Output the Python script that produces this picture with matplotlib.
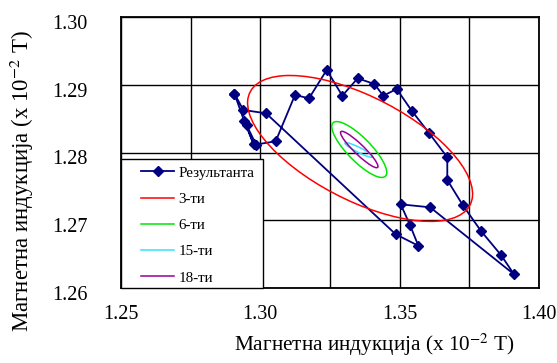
import matplotlib
matplotlib.use("Agg")
import matplotlib.pyplot as plt
import matplotlib.ticker as mticker
import matplotlib.transforms as mtransforms
from matplotlib.patches import Ellipse, Rectangle
from matplotlib.lines import Line2D

plt.rcParams['font.family'] = ['Liberation Serif', 'DejaVu Serif']
plt.rcParams['mathtext.fontset'] = 'stix'

# resultant locus (x 10^-2 T)
res_x = [1.2907, 1.29414, 1.29755, 1.29504, 1.29844, 1.30551, 1.31244, 1.31746,
         1.32382, 1.32941, 1.33494, 1.34090, 1.34413, 1.34893, 1.35432, 1.36063,
         1.36709, 1.36709, 1.37262, 1.37919, 1.38636, 1.39103, 1.36094, 1.35037,
         1.35371, 1.35669, 1.34858, 1.30203, 1.29389, 1.2907]
res_y = [1.2887, 1.28472, 1.28125, 1.28406, 1.28118, 1.28165, 1.28849, 1.28800,
         1.29218, 1.28838, 1.29095, 1.29011, 1.28838, 1.28937, 1.28617, 1.28283,
         1.27929, 1.27594, 1.27225, 1.26841, 1.26487, 1.26202, 1.27191, 1.27235,
         1.26930, 1.26624, 1.26793, 1.28579, 1.28627, 1.2887]

# harmonic loci (ellipses): centre, full width, full height, tilt in degrees
harm_labels = ['3-ти', '6-ти', '15-ти', '18-ти']
harm_colors = ['#ff0000', '#00e600', '#33e0ff', '#990099']
harm_cx = [1.3358, 1.3355, 1.3354, 1.3355]
harm_cy = [1.2806, 1.28044, 1.28037, 1.28044]
harm_w = [0.0819, 0.02093, 0.01024, 0.01435]
harm_h = [0.0166, 0.00444, 0.000805, 0.00189]
harm_ang = [-9.85, -19.9, -11.4, -20.7]

fig = plt.figure(figsize=(5.57, 3.63), dpi=100)
ax = fig.add_axes([121 / 557, 75 / 363, 418 / 557, 271 / 363])

ax.plot(res_x, res_y, color='#000080', lw=1.3, marker='D', markersize=5.5, zorder=3)
for cx, cy, w, h, a, c in zip(harm_cx, harm_cy, harm_w, harm_h, harm_ang, harm_colors):
    ax.add_patch(Ellipse((cx, cy), w, h, angle=a, fill=False, edgecolor=c, lw=1.1, zorder=3.5))

ax.set_xlim(1.25, 1.40)
ax.set_ylim(1.26, 1.30)
ax.set_xticks([1.25, 1.30, 1.35, 1.40])
ax.xaxis.set_minor_locator(mticker.MultipleLocator(0.025))
ax.set_yticks([1.26, 1.27, 1.28, 1.29, 1.30])
ax.xaxis.set_major_formatter(mticker.FormatStrFormatter('%.2f'))
ax.yaxis.set_major_formatter(mticker.FormatStrFormatter('%.2f'))
ax.tick_params(which='both', length=0, labelsize=14.5)
ax.tick_params(axis='x', pad=12)
ax.tick_params(axis='y', pad=24)
ax.grid(which='both', axis='x', color='black', lw=1)
ax.grid(which='major', axis='y', color='black', lw=1)
ax.set_axisbelow(True)
for s in ax.spines.values():
    s.set_linewidth(1.3)

# y tick labels sit a little below their grid lines, as in the original
shift = mtransforms.ScaledTranslation(0, -5 / 100, fig.dpi_scale_trans)
for lbl in ax.get_yticklabels():
    lbl.set_transform(lbl.get_transform() + shift)

# legend with its own frame
ax.add_patch(Rectangle((0, 0), 142 / 418, 129 / 271, transform=ax.transAxes,
                       facecolor='white', edgecolor='black', lw=1, zorder=4.5, clip_on=False))
handles = [Line2D([], [], color='#000080', lw=1.3, marker='D', markersize=5.5)]
handles += [Line2D([], [], color=c, lw=1.1) for c in harm_colors]
ax.legend(handles, ['Результанта'] + harm_labels, loc='upper left',
          bbox_to_anchor=(20 / 418, (288 - 166) / 271), frameon=False, borderpad=0,
          borderaxespad=0, handlelength=2.2, handletextpad=0.3, labelspacing=0.85,
          fontsize=10.8)

label = 'Магнетна индукција (x 10$^{-2}$ T)'
fig.text(374 / 557, 1 - 345 / 363, label, ha='center', va='center', fontsize=15.3)
fig.text(22 / 557, 1 - 181 / 363, label, ha='center', va='center', fontsize=16.5, rotation=90)

fig.savefig('out.png', dpi=100)
